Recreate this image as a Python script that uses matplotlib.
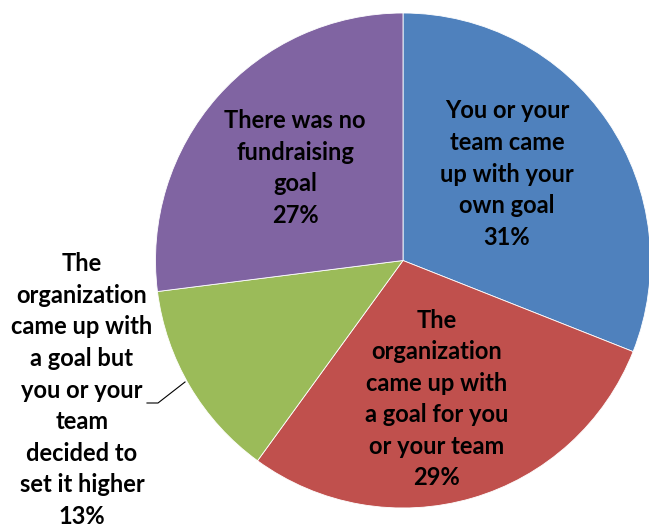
import matplotlib
matplotlib.use("Agg")
import matplotlib.pyplot as plt

categories = [
    "You or your\nteam came\nup with your\nown goal",
    "The\norganization\ncame up with\na goal for you\nor your team",
    "The\norganization\ncame up with\na goal but\nyou or your\nteam\ndecided to\nset it higher",
    "There was no\nfundraising\ngoal",
]
values = [31, 29, 13, 27]
colors = ["#4F81BD", "#C0504D", "#9BBB59", "#8064A2"]

W, H = 649, 529
fig = plt.figure(figsize=(W / 100, H / 100), dpi=100)
cx, cy, r = 403, 260.5, 247.5
ax = fig.add_axes([(cx - r) / W, (H - cy - r) / H, 2 * r / W, 2 * r / H])
ax.pie(values, colors=colors, startangle=90, counterclock=False, radius=1.0,
       wedgeprops=dict(linewidth=0.6, edgecolor="white"))
ax.set_xlim(-1, 1)
ax.set_ylim(-1, 1)
ax.set_aspect("equal")
ax.axis("off")

def px(x, y):
    return (x - cx) / r, (cy - y) / r

# label centres in pixel coordinates (styling)
label_pos = [(507, 174), (437, 399), (82, 390), (295, 168)]
font = dict(family=["Lato", "DejaVu Sans"], fontsize=17, fontweight="bold",
            color="black", ha="center", va="center", linespacing=1.45)
for cat, v, (x, y) in zip(categories, values, label_pos):
    tx, ty = px(x, y)
    ax.text(tx, ty, f"{cat}\n{v}%", clip_on=False, **font)

# leader line for the small slice
p1 = px(147, 403); p2 = px(158, 403); p3 = px(185, 382)
ax.plot([p1[0], p2[0], p3[0]], [p1[1], p2[1], p3[1]], color="black", lw=0.8,
        clip_on=False)

fig.savefig("out.png", dpi=100)
